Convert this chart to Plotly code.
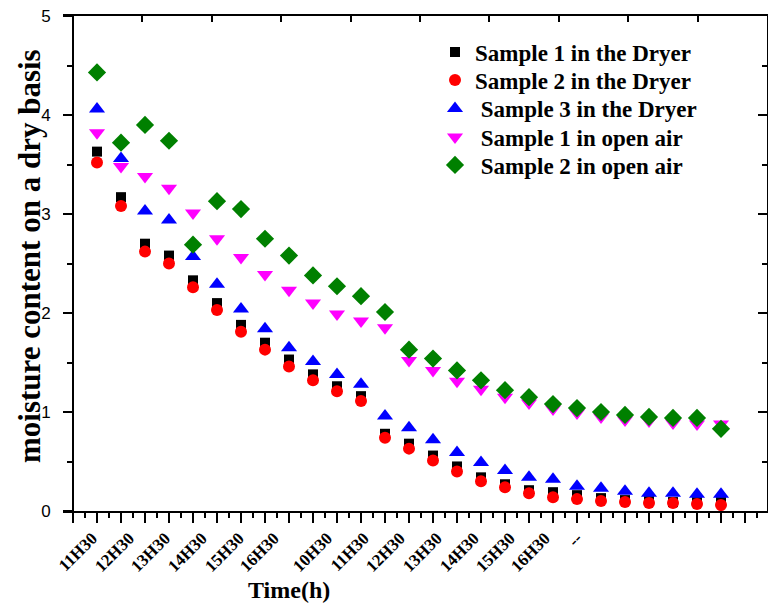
import plotly.graph_objects as go

# ---- data ----
idx = list(range(27))
s1_dryer = [3.63, 3.17, 2.70, 2.58, 2.33, 2.10, 1.88, 1.70, 1.53, 1.38, 1.26, 1.16, 0.78, 0.68,
            0.56, 0.45, 0.34, 0.27, 0.21, 0.19, 0.16, 0.13, 0.11, 0.10, 0.09, 0.09, 0.09]
s2_dryer = [3.52, 3.08, 2.62, 2.50, 2.26, 2.03, 1.81, 1.63, 1.46, 1.32, 1.21, 1.11, 0.74, 0.63,
            0.51, 0.40, 0.30, 0.24, 0.18, 0.14, 0.12, 0.10, 0.09, 0.08, 0.08, 0.07, 0.06]
s3_dryer = [4.06, 3.56, 3.03, 2.94, 2.57, 2.29, 2.04, 1.84, 1.65, 1.51, 1.38, 1.28, 0.96, 0.84,
            0.72, 0.59, 0.49, 0.41, 0.34, 0.32, 0.25, 0.23, 0.20, 0.18, 0.18, 0.17, 0.17]
s1_open = [3.82, 3.48, 3.38, 3.26, 3.01, 2.75, 2.56, 2.39, 2.23, 2.10, 1.99, 1.92, 1.85, 1.52,
           1.42, 1.31, 1.23, 1.15, 1.09, 1.03, 0.99, 0.95, 0.92, 0.91, 0.89, 0.88, 0.88]
s2_open = [4.43, 3.72, 3.90, 3.74, 2.69, 3.13, 3.05, 2.75, 2.58, 2.38, 2.27, 2.17, 2.01, 1.63,
           1.54, 1.42, 1.32, 1.22, 1.15, 1.08, 1.04, 1.00, 0.97, 0.95, 0.94, 0.94, 0.83]

tick_pos = [-0.2, 1.34, 2.84, 4.38, 5.92, 7.38, 9.59, 11.13, 12.63, 14.17, 15.71, 17.21, 18.67, 20.0]
tick_text = ["11H30", "12H30", "13H30", "14H30", "15H30", "16H30", "10H30", "11H30", "12H30",
             "13H30", "14H30", "15H30", "16H30", "--"]

names = ["Sample 1 in the Dryer", "Sample 2 in the Dryer", "\u00a0Sample 3 in the Dryer",
         "\u00a0Sample 1 in open air", "\u00a0Sample 2 in open air"]
series = [s1_dryer, s2_dryer, s3_dryer, s1_open, s2_open]
colors = ["#000000", "#FF0000", "#0000FF", "#FF00FF", "#008000"]
symbols = ["square", "circle", "triangle-up", "triangle-down", "diamond"]
sizes = [10, 12, 14, 14, 14]
legend_ids = ["legend", "legend2", "legend3", "legend4", "legend5"]
legend_rows_px = [52, 80, 108.5, 137, 165]

serif = "Liberation Serif"
W = 704.0
H = 495.0
xr = [-34 / 24.0, 670 / 24.0]

fig = go.Figure()
for n, s, c, sym, sz, lg in zip(names, series, colors, symbols, sizes, legend_ids):
    fig.add_trace(go.Scatter(x=idx, y=s, mode="markers", name=n, legend=lg,
                             marker=dict(color=c, symbol=sym, size=sz, line=dict(width=0))))

# dummy traces so overlay axes are drawn
fig.add_trace(go.Scatter(x=[None], y=[None], xaxis="x2", yaxis="y", showlegend=False, hoverinfo="skip"))
fig.add_trace(go.Scatter(x=[None], y=[None], xaxis="x3", yaxis="y", showlegend=False, hoverinfo="skip"))
fig.add_trace(go.Scatter(x=[None], y=[None], xaxis="x", yaxis="y2", showlegend=False, hoverinfo="skip"))

legend_font = dict(family=serif, size=23, color="black", weight="bold")
legends = {}
for lg, row in zip(legend_ids, legend_rows_px):
    legends[lg] = dict(x=(435 - 63) / W, y=(511 - row) / H, xanchor="left", yanchor="middle",
                       bgcolor="rgba(0,0,0,0)", borderwidth=0, font=legend_font)

fig.update_layout(
    width=768, height=607,
    margin=dict(l=63, r=1, t=16, b=96),
    paper_bgcolor="white", plot_bgcolor="white",
    showlegend=True,
    xaxis=dict(domain=[0, 1], range=xr, anchor="y", showline=True, linewidth=2, linecolor="black",
               ticks="outside", tickmode="linear", tick0=-1, dtick=1, ticklen=10, tickwidth=1.5,
               tickcolor="black", showticklabels=False, showgrid=False, zeroline=False,
               minor=dict(ticks="outside", dtick=0.5, tick0=-1, ticklen=5, tickwidth=1.5,
                          tickcolor="black", showgrid=False)),
    xaxis2=dict(overlaying="x", side="top", anchor="y", range=[-0.144, 10],
                tickmode="array", tickvals=[1, 2, 3, 4, 5, 6, 7, 8, 9], ticks="inside", ticklen=6,
                tickwidth=1.5, tickcolor="black", showline=True, linewidth=2, linecolor="black",
                showticklabels=False, showgrid=False, zeroline=False),
    xaxis3=dict(overlaying="x", side="bottom", anchor="y", range=xr, tickmode="array",
                tickvals=tick_pos, ticktext=tick_text, ticks="", showline=False, showgrid=False,
                zeroline=False, tickangle=-45, ticklabelstandoff=13,
                tickfont=dict(family=serif, size=17, color="black", weight="bold")),
    yaxis=dict(range=[0, 5], anchor="free", position=10 / W, showline=True, linewidth=2,
               linecolor="black", ticks="outside", tickmode="linear", tick0=0, dtick=1, ticklen=9,
               tickwidth=1.5, tickcolor="black", showgrid=False, zeroline=False,
               ticklabelstandoff=9,
               tickfont=dict(family="Liberation Sans", size=17, color="black"),
               minor=dict(ticks="outside", dtick=0.5, ticklen=5, tickwidth=1.5, tickcolor="black",
                          showgrid=False)),
    yaxis2=dict(overlaying="y", side="right", anchor="x", range=[0, 5], showline=True, linewidth=2,
                linecolor="black", ticks="inside", tickmode="linear", tick0=0, dtick=1, ticklen=9,
                tickwidth=1.5, tickcolor="black", showticklabels=False, showgrid=False,
                zeroline=False,
                minor=dict(ticks="inside", dtick=0.5, ticklen=5, tickwidth=1.5, tickcolor="black",
                           showgrid=False)),
    annotations=[
        dict(text="moisture content on a dry basis", xref="paper", yref="paper",
             x=(29 - 63) / W, y=(511 - 256) / H, xanchor="center", yanchor="middle",
             textangle=-90, showarrow=False,
             font=dict(family=serif, size=31, color="black", weight="bold")),
        dict(text="Time(h)", xref="paper", yref="paper",
             x=(288.5 - 63) / W, y=(511 - 590) / H, xanchor="center", yanchor="middle",
             showarrow=False, font=dict(family=serif, size=24, color="black", weight="bold")),
    ],
    **legends,
)

fig.write_html("out.html")
